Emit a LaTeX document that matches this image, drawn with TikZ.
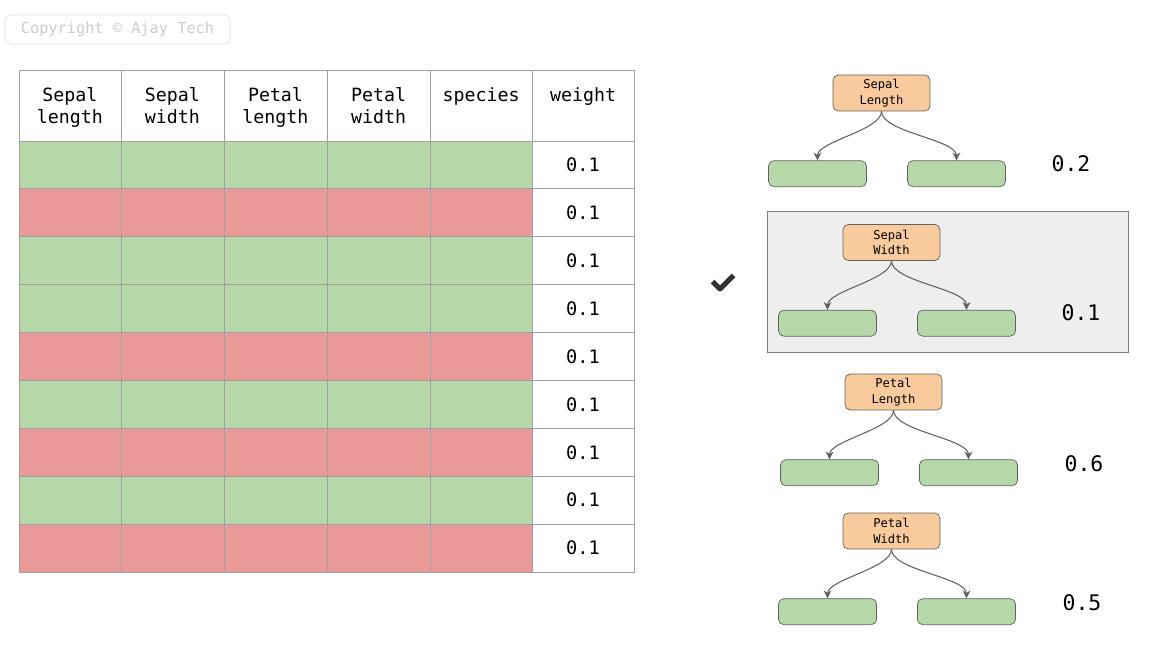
\documentclass[tikz,border=0pt]{standalone}
\usepackage{fontspec}
\setmainfont{DejaVu Sans}
\setmonofont{DejaVu Sans Mono}
\usetikzlibrary{positioning}
\usetikzlibrary{arrows.meta}

\definecolor{leafgreen}{HTML}{B6D7A8}
\definecolor{rowred}{HTML}{EA9999}
\definecolor{rootorange}{HTML}{F9CB9C}
\definecolor{gridgray}{HTML}{A0A0A0}
\definecolor{edgegray}{HTML}{606060}
\definecolor{panelgray}{HTML}{EEEEEE}
\definecolor{offblack}{HTML}{333333}

\tikzset{
  rootbox/.style={draw=edgegray, fill=rootorange, rounded corners=3pt,
    minimum width=1.94cm, minimum height=0.72cm, inner sep=0pt,
    align=center, font=\fontsize{6.9}{9}\ttfamily},
  leafbox/.style={draw=edgegray, fill=leafgreen, rounded corners=3pt,
    minimum width=1.96cm, minimum height=0.52cm, inner sep=0pt},
  split/.style={edgegray, line width=0.6pt, -{Stealth[length=4.5pt, width=4.5pt, inset=1.5pt]},
    out=-90, in=90, looseness=0.6},
  header/.style={anchor=north, inner sep=0pt, align=center,
    font=\fontsize{10.4}{12.5}\ttfamily},
  cellw/.style={font=\fontsize{10.6}{12}\ttfamily},
  weight/.style={font=\fontsize{12.2}{14}\ttfamily},
}

\begin{document}
\begin{tikzpicture}[x=0.02cm, y=-0.02cm]
        \useasboundingbox (0,0) rectangle (1150,648);

        % copyright badge
        \node [draw=gray!25, rounded corners=3pt, minimum width=4.5cm,
          minimum height=0.58cm, text=gray!40, font=\fontsize{8.7}{10}\ttfamily]
          (copy) at (117.5,29.5) {Copyright © Ajay Tech};

        % table rows
        \fill [leafgreen] (19,141) rectangle (532,188.9);
        \fill [rowred]    (19,188.9) rectangle (532,236.8);
        \fill [leafgreen] (19,236.8) rectangle (532,284.7);
        \fill [leafgreen] (19,284.7) rectangle (532,332.6);
        \fill [rowred]    (19,332.6) rectangle (532,380.4);
        \fill [leafgreen] (19,380.4) rectangle (532,428.3);
        \fill [rowred]    (19,428.3) rectangle (532,476.2);
        \fill [leafgreen] (19,476.2) rectangle (532,524.1);
        \fill [rowred]    (19,524.1) rectangle (532,572);

        % table grid
        \draw [gridgray, line width=0.5pt] (19,70) rectangle (634,572);
        \draw [gridgray, line width=0.5pt]
          (121,70) -- (121,572) (224,70) -- (224,572) (327,70) -- (327,572)
          (430,70) -- (430,572) (532,70) -- (532,572);
        \draw [gridgray, line width=0.5pt]
          (19,141) -- (634,141) (19,188.9) -- (634,188.9) (19,236.8) -- (634,236.8)
          (19,284.7) -- (634,284.7) (19,332.6) -- (634,332.6) (19,380.4) -- (634,380.4)
          (19,428.3) -- (634,428.3) (19,476.2) -- (634,476.2) (19,524.1) -- (634,524.1);

        % header
        \node [header] (h1) at (70,87)  {Sepal\\length};
        \node [header] (h2) at (172.5,87) {Sepal\\width};
        \node [header] (h3) at (275.5,87) {Petal\\length};
        \node [header] (h4) at (378.5,87) {Petal\\width};
        \node [header] (h5) at (481,87) {species};
        \node [header] (h6) at (583,87) {weight};

        % weights
        \node [cellw] (w1) at (583,165)   {0.1};
        \node [cellw] (w2) at (583,212.9) {0.1};
        \node [cellw] (w3) at (583,260.8) {0.1};
        \node [cellw] (w4) at (583,308.7) {0.1};
        \node [cellw] (w5) at (583,356.5) {0.1};
        \node [cellw] (w6) at (583,404.4) {0.1};
        \node [cellw] (w7) at (583,452.3) {0.1};
        \node [cellw] (w8) at (583,500.2) {0.1};
        \node [cellw] (w9) at (583,548.1) {0.1};

        % chosen stump
        \node [draw=gray, fill=panelgray, minimum width=7.22cm, minimum height=2.82cm,
          inner sep=0pt] (panel) at (947.5,281.5) {};
        \draw [offblack, line width=2.9pt, line join=round]
          (712.5,281.5) -- (720,289) -- (733.5,275.5);

        % sepal length stump
        \node [rootbox] (r1) at (881.5,93) {Sepal\\Length};
        \node [leafbox, below=0.98cm of r1, xshift=-1.28cm] (l1a) {};
        \node [leafbox, below=0.98cm of r1, xshift=1.5cm] (l1b) {};
        \node [weight] (s1) at (1071,164) {0.2};

        % sepal width stump
        \node [rootbox] (r2) at (891.5,242.5) {Sepal\\Width};
        \node [leafbox, below=0.98cm of r2, xshift=-1.28cm] (l2a) {};
        \node [leafbox, below=0.98cm of r2, xshift=1.5cm] (l2b) {};
        \node [weight] (s2) at (1081,313) {0.1};

        % petal length stump
        \node [rootbox] (r3) at (893.5,392) {Petal\\Length};
        \node [leafbox, below=0.98cm of r3, xshift=-1.28cm] (l3a) {};
        \node [leafbox, below=0.98cm of r3, xshift=1.5cm] (l3b) {};
        \node [weight] (s3) at (1084,464) {0.6};

        % petal width stump
        \node [rootbox] (r4) at (891.5,531) {Petal\\Width};
        \node [leafbox, below=0.98cm of r4, xshift=-1.28cm] (l4a) {};
        \node [leafbox, below=0.98cm of r4, xshift=1.5cm] (l4b) {};
        \node [weight] (s4) at (1082,603) {0.5};

        \draw [split] (r1.south) to (l1a.north);
        \draw [split] (r1.south) to (l1b.north);
        \draw [split] (r2.south) to (l2a.north);
        \draw [split] (r2.south) to (l2b.north);
        \draw [split] (r3.south) to (l3a.north);
        \draw [split] (r3.south) to (l3b.north);
        \draw [split] (r4.south) to (l4a.north);
        \draw [split] (r4.south) to (l4b.north);
    \end{tikzpicture}
\end{document}
